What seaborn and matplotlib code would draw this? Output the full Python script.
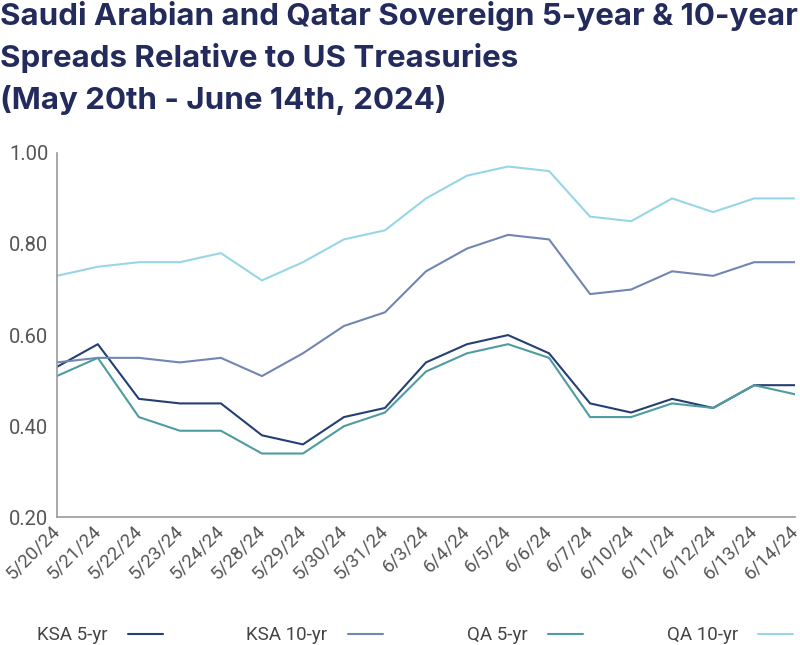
import numpy as np
import pandas as pd
import seaborn as sns
import matplotlib.pyplot as plt
from matplotlib.transforms import ScaledTranslation

# Datos
fechas = ["5/20/24", "5/21/24", "5/22/24", "5/23/24", "5/24/24", "5/28/24", "5/29/24",
          "5/30/24", "5/31/24", "6/3/24", "6/4/24", "6/5/24", "6/6/24", "6/7/24",
          "6/10/24", "6/11/24", "6/12/24", "6/13/24", "6/14/24"]
ksa_5 = [0.53, 0.58, 0.46, 0.45, 0.45, 0.38, 0.36, 0.42, 0.44, 0.54,
         0.58, 0.60, 0.56, 0.45, 0.43, 0.46, 0.44, 0.49, 0.49]
ksa_10 = [0.54, 0.55, 0.55, 0.54, 0.55, 0.51, 0.56, 0.62, 0.65, 0.74,
          0.79, 0.82, 0.81, 0.69, 0.70, 0.74, 0.73, 0.76, 0.76]
qa_5 = [0.51, 0.55, 0.42, 0.39, 0.39, 0.34, 0.34, 0.40, 0.43, 0.52,
        0.56, 0.58, 0.55, 0.42, 0.42, 0.45, 0.44, 0.49, 0.47]
qa_10 = [0.73, 0.75, 0.76, 0.76, 0.78, 0.72, 0.76, 0.81, 0.83, 0.90,
         0.95, 0.97, 0.96, 0.86, 0.85, 0.90, 0.87, 0.90, 0.90]

series = ["KSA 5-yr", "KSA 10-yr", "QA 5-yr", "QA 10-yr"]
colores = ["#243f73", "#7186b3", "#4e9ca0", "#97d6e6"]

df = pd.DataFrame({"idx": np.arange(len(fechas)),
                   "KSA 5-yr": ksa_5, "KSA 10-yr": ksa_10,
                   "QA 5-yr": qa_5, "QA 10-yr": qa_10})
df_long = df.melt(id_vars="idx", var_name="serie", value_name="spread")

sns.set_style("white")
plt.rcParams['font.family'] = ['Roboto', 'DejaVu Sans']

fig = plt.figure(figsize=(8, 6.45), dpi=100)
ax = fig.add_axes([0.071, 0.198, 0.923, 0.565])

sns.lineplot(data=df_long, x="idx", y="spread", hue="serie", hue_order=series,
             palette=colores, linewidth=1.5, ax=ax)

ax.set_xlim(0, len(fechas) - 1)
ax.set_ylim(0.2, 1.0)
ax.set_yticks([0.2, 0.4, 0.6, 0.8, 1.0])
ax.set_yticklabels([f"{v:.2f}" for v in [0.2, 0.4, 0.6, 0.8, 1.0]],
                   fontsize=14.5, color="#555555")
ax.set_xticks(np.arange(len(fechas)))
ax.set_xticklabels(fechas, rotation=45, ha="right", va="center",
                   rotation_mode="anchor", fontsize=13.5, color="#555555")
offset = ScaledTranslation(-4 / 100, -2 / 100, fig.dpi_scale_trans)
for lbl in ax.get_xticklabels():
    lbl.set_transform(lbl.get_transform() + offset)
ax.tick_params(axis="x", which="major", length=0, pad=8)
ax.set_xticks(np.linspace(0, len(fechas) - 1, len(fechas) + 1), minor=True)
ax.tick_params(axis="x", which="minor", direction="in", length=7, color="#999999", width=1)
ax.tick_params(axis="y", direction="in", length=13, color="#999999", width=1, pad=6)
ax.set_xlabel("")
ax.set_ylabel("")

for s in ["top", "right"]:
    ax.spines[s].set_visible(False)
for s in ["left", "bottom"]:
    ax.spines[s].set_color("#999999")
    ax.spines[s].set_linewidth(1.2)

leg = ax.legend(loc="lower left", bbox_to_anchor=(-0.05, -0.395, 1.07, 0.1),
                ncol=4, mode="expand", frameon=False, markerfirst=False,
                fontsize=13.5, handlelength=1.85, handletextpad=1.1)
for t in leg.get_texts():
    t.set_color("#444444")

fig.text(0.0, 0.998,
         "Saudi Arabian and Qatar Sovereign 5-year & 10-year\n"
         "Spreads Relative to US Treasuries\n"
         "(May 20th - June 14th, 2024)",
         ha="left", va="top", fontsize=22.5, fontweight="bold",
         color="#232a5c", family=["Inter", "DejaVu Sans"], linespacing=1.5)

fig.savefig("out.png", dpi=100)
